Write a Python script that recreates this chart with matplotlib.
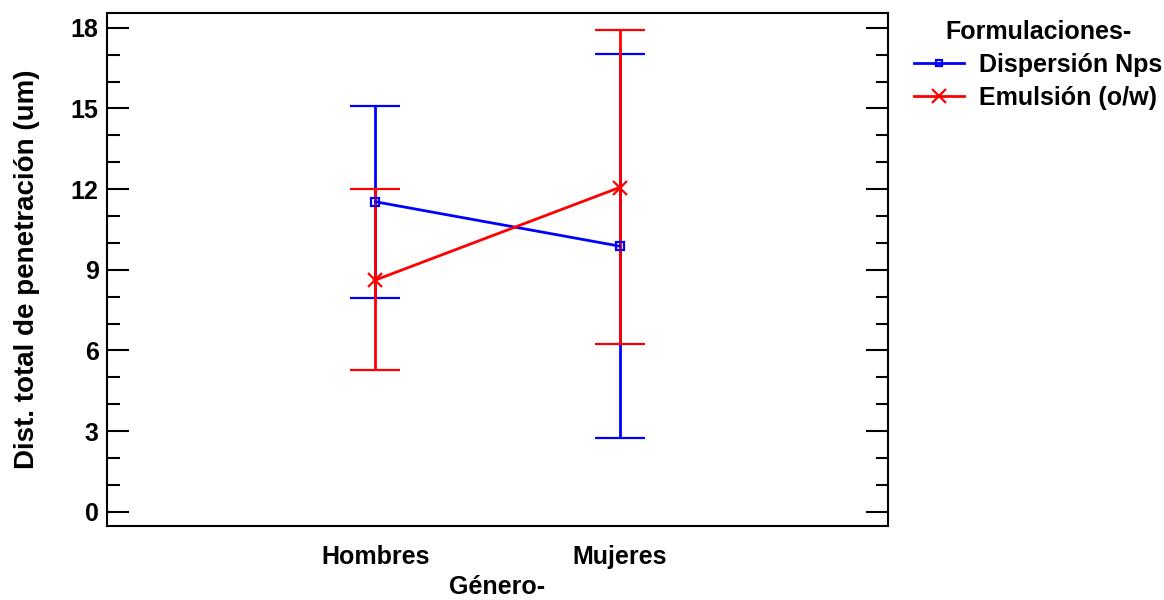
import matplotlib.pyplot as plt
import numpy as np
from matplotlib.ticker import MultipleLocator
from matplotlib.lines import Line2D

plt.rcParams['font.family'] = ['Liberation Sans', 'DejaVu Sans']
plt.rcParams['font.weight'] = 'bold'

generos = ['Hombres', 'Mujeres']
series = ['Dispersión Nps', 'Emulsión (o/w)']

disp_media = [11.53, 9.88]
disp_inf = [7.96, 2.74]
disp_sup = [15.09, 17.03]

emul_media = [8.62, 12.06]
emul_inf = [5.26, 6.25]
emul_sup = [11.99, 17.91]

x = np.array([1, 2])

fig = plt.figure(figsize=(11.64, 6.0), dpi=100)
ax = fig.add_axes([0.0919, 0.1233, 0.671, 0.855])

estilos = [('blue', 's', 6), ('red', 'x', 10)]

def dibuja(media, inf, sup, color, marker, ms):
    media = np.array(media)
    yerr = [media - np.array(inf), np.array(sup) - media]
    ax.errorbar(x, media, yerr=yerr, color=color, lw=2, capsize=18,
                capthick=2, marker=marker, ms=ms, mfc='none', mec=color,
                mew=1.6)

dibuja(disp_media, disp_inf, disp_sup, *estilos[0])
dibuja(emul_media, emul_inf, emul_sup, *estilos[1])

ax.set_xlim(-0.1, 3.1)
ax.set_ylim(-0.53, 18.55)
ax.set_xticks(x)
ax.set_xticklabels(generos)
ax.yaxis.set_major_locator(MultipleLocator(3))
ax.yaxis.set_minor_locator(MultipleLocator(1))
ax.tick_params(axis='y', which='major', direction='in', length=16, width=1.5,
               right=True, labelsize=18, pad=6)
ax.tick_params(axis='y', which='minor', direction='in', length=9, width=1.5,
               right=True)
ax.tick_params(axis='x', length=0, labelsize=18, pad=14)
for s in ax.spines.values():
    s.set_linewidth(1.5)

ax.set_xlabel('Género-', fontsize=18, fontweight='bold', labelpad=4)
ax.set_ylabel('Dist. total de penetración (um)', fontsize=20, fontweight='bold',
              labelpad=22)

handles = [Line2D([], [], color=c, lw=2, marker=m, ms=ms * 0.8 if m == 's' else ms,
                  mfc='none', mec=c, mew=1.6) for c, m, ms in estilos]
leg = fig.legend(handles, series, title='Formulaciones-', loc='upper left',
                 bbox_to_anchor=(0.781, 0.975), frameon=False, fontsize=18,
                 title_fontsize=18, handlelength=2.0, handletextpad=0.6,
                 labelspacing=0.35, borderpad=0.2, borderaxespad=0)
leg.get_title().set_fontweight('bold')

fig.savefig('out.png', dpi=100)
